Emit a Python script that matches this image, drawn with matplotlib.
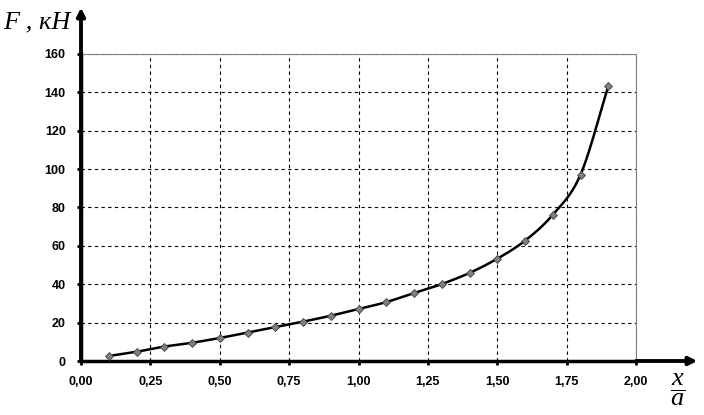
import numpy as np
import matplotlib.pyplot as plt

plt.rcParams['mathtext.fontset'] = 'custom'
plt.rcParams['mathtext.it'] = 'Liberation Serif:italic'
plt.rcParams['mathtext.rm'] = 'Liberation Serif'

x_ratio = [0.1, 0.2, 0.3, 0.4, 0.5, 0.6, 0.7, 0.8, 0.9, 1.0,
           1.1, 1.2, 1.3, 1.4, 1.5, 1.6, 1.7, 1.8, 1.9]
force = [2.6, 4.8, 7.5, 9.5, 12.0, 14.8, 17.7, 20.5, 23.6, 27.1,
         30.7, 35.4, 40.1, 45.9, 53.3, 62.7, 76.2, 97.1, 143.1]
x_ticks = [0.0, 0.25, 0.5, 0.75, 1.0, 1.25, 1.5, 1.75, 2.0]
y_ticks = [0, 20, 40, 60, 80, 100, 120, 140, 160]


def smooth(xs, ys, n=20):
    # catmull-rom curve through the points, like the smoothed line in excel
    p = np.column_stack([xs, ys])
    p = np.vstack([2 * p[0] - p[1], p, 2 * p[-1] - p[-2]])
    t = np.linspace(0, 1, n, endpoint=False)[:, None]
    out = []
    for i in range(1, len(p) - 2):
        p0, p1, p2, p3 = p[i - 1], p[i], p[i + 1], p[i + 2]
        seg = 0.5 * (2 * p1 + (-p0 + p2) * t
                     + (2 * p0 - 5 * p1 + 4 * p2 - p3) * t ** 2
                     + (-p0 + 3 * p1 - 3 * p2 + p3) * t ** 3)
        out.append(seg)
    out.append(p[-2][None, :])
    out = np.vstack(out)
    return out[:, 0], out[:, 1]


fig = plt.figure(figsize=(7.04, 4.15), dpi=100)
ax = fig.add_axes([81 / 704, 54 / 415, 555 / 704, 307 / 415])

sx, sy = smooth(x_ratio, force)
ax.plot(sx, sy, color='black', lw=1.8, zorder=3)
ax.plot(x_ratio, force, ls='none', marker='D', ms=4, mfc='#808080',
        mec='#404040', mew=0.6, zorder=4)

ax.set_xlim(0, 2)
ax.set_ylim(0, 160)
ax.set_xticks(x_ticks)
ax.set_yticks(y_ticks)
ax.set_xticklabels([f"{v:.2f}".replace('.', ',') for v in x_ticks])
ax.set_yticklabels([str(v) for v in y_ticks])
for lab in ax.get_xticklabels() + ax.get_yticklabels():
    lab.set_fontfamily('Liberation Sans')
    lab.set_fontweight('bold')
    lab.set_fontsize(9)

ax.grid(True, color='black', ls=(0, (3, 3)), lw=0.8)
ax.tick_params(direction='out', length=3, width=2, pad=8)
ax.spines['left'].set_linewidth(2.5)
ax.spines['bottom'].set_linewidth(2.5)
ax.spines['top'].set_color('#808080')
ax.spines['right'].set_color('#808080')
ax.spines['top'].set_linewidth(0.8)
ax.spines['right'].set_linewidth(0.8)

# axis arrows
fig.add_artist(plt.annotate('', xy=(81 / 704, 1 - 8 / 415), xytext=(81 / 704, 54 / 415),
                            xycoords='figure fraction',
                            arrowprops=dict(arrowstyle='-|>', color='black', lw=2.5,
                                            mutation_scale=12, shrinkA=0, shrinkB=0)))
fig.add_artist(plt.annotate('', xy=(697 / 704, 54 / 415), xytext=(636 / 704, 54 / 415),
                            xycoords='figure fraction',
                            arrowprops=dict(arrowstyle='-|>', color='black', lw=2.5,
                                            mutation_scale=12, shrinkA=0, shrinkB=0)))

fig.text(3 / 704, 1 - 28 / 415, 'F , кН', family='Liberation Serif', style='italic',
         fontsize=19, ha='left', va='baseline')
fig.text(678 / 704, 1 - 390 / 415, r'$\dfrac{x}{a}$', fontsize=19,
         ha='center', va='center')

plt.savefig('out.png', dpi=100)
